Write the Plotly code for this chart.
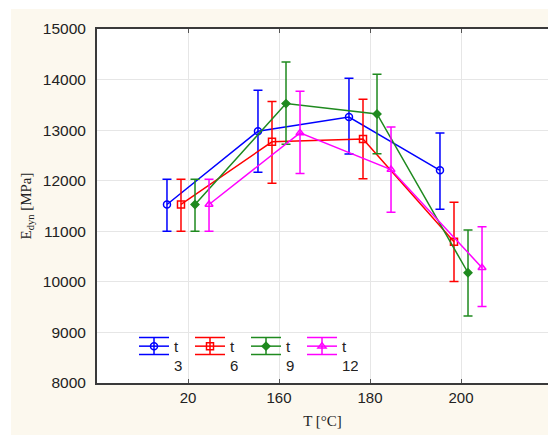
import plotly.graph_objects as go

# ---- data ----
categories = ["20", "160", "180", "200"]          # T [°C]
series_names = ["3", "6", "9", "12"]              # t

t3_mean = [11530, 12980, 13260, 12205]
t3_high = [12030, 13790, 14025, 12945]
t3_low = [11000, 12165, 12530, 11435]

t6_mean = [11530, 12770, 12825, 10795]
t6_high = [12030, 13565, 13610, 11575]
t6_low = [11000, 11950, 12040, 10005]

t9_mean = [11530, 13525, 13320, 10180]
t9_high = [12030, 14345, 14105, 11025]
t9_low = [11000, 12720, 12535, 9325]

t12_mean = [11530, 12945, 12220, 10280]
t12_high = [12030, 13770, 13060, 11090]
t12_low = [11000, 12145, 11375, 9515]

y_ticks = [8000, 9000, 10000, 11000, 12000, 13000, 14000, 15000]
y_labels = ["8000", "9000", "10000", "11000", "12000", "13000", "14000", "15000"]

# ---- styling ----
colors = ["#0000ff", "#ff0000", "#1f8a1f", "#ff00ff"]
symbols = ["circle-open", "square-open", "diamond", "triangle-up-open"]
msizes = [7, 7, 6, 7]
offsets = [-0.231, -0.077, 0.077, 0.231]

means = [t3_mean, t6_mean, t9_mean, t12_mean]
highs = [t3_high, t6_high, t9_high, t12_high]
lows = [t3_low, t6_low, t9_low, t12_low]

base_pos = list(range(1, len(categories) + 1))

W, H = 548, 435
ML, MR, MT, MB = 97, 0, 29, 52
PW, PH = W - ML - MR, H - MT - MB

def px_x(px):
    return (px - ML) / PW

def px_y(py):
    return (H - MB - py) / PH

fig = go.Figure()
for i, name in enumerate(series_names):
    xs = [p + offsets[i] for p in base_pos]
    plus = [h - m for h, m in zip(highs[i], means[i])]
    minus = [m - l for m, l in zip(means[i], lows[i])]
    fig.add_trace(go.Scatter(
        x=xs, y=means[i], name="t<br>" + name,
        mode="lines+markers",
        line=dict(color=colors[i], width=1.5),
        marker=dict(symbol=symbols[i], size=msizes[i], color=colors[i],
                    line=dict(color=colors[i], width=1.5)),
        error_y=dict(type="data", symmetric=False, array=plus, arrayminus=minus,
                     color=colors[i], thickness=1.5, width=4.5),
    ))

# legend placement (pixels) and error-bar caps drawn on the legend icons
leg_left = 134
entry_w = 11
item_step = 40 + entry_w + 5
icon_mid_y = 346
shapes = [
    dict(type="rect", xref="paper", yref="paper", x0=px_x(0), x1=px_x(11),
         y0=px_y(H + 5), y1=px_y(-2), fillcolor="white", line=dict(width=0), layer="above"),
    dict(type="rect", xref="paper", yref="paper", x0=px_x(0), x1=px_x(W),
         y0=px_y(9), y1=px_y(-2), fillcolor="white", line=dict(width=0), layer="above"),
]
for i in range(len(series_names)):
    a = leg_left + i * item_step + 5
    b = a + 30
    for dy in (-8.5, 8.5):
        shapes.append(dict(type="line", xref="paper", yref="paper",
                           x0=px_x(a), x1=px_x(b), y0=px_y(icon_mid_y + dy), y1=px_y(icon_mid_y + dy),
                           line=dict(color=colors[i], width=1.5), layer="above"))
    shapes.append(dict(type="line", xref="paper", yref="paper",
                       x0=px_x((a + b) / 2), x1=px_x((a + b) / 2),
                       y0=px_y(icon_mid_y - 8.5), y1=px_y(icon_mid_y + 8.5),
                       line=dict(color=colors[i], width=1.5), layer="above"))

beige = "#fcf8ee"
fig.update_layout(
    width=W, height=H,
    margin=dict(l=ML, r=MR, t=MT, b=MB),
    paper_bgcolor=beige, plot_bgcolor="white",
    font=dict(family="Liberation Sans, Arial, sans-serif", size=15, color="#222"),
    showlegend=True,
    legend=dict(orientation="h", x=px_x(leg_left), y=0.15, xanchor="left", yanchor="top",
                valign="top", entrywidth=entry_w, entrywidthmode="pixels",
                bgcolor="rgba(0,0,0,0)", font=dict(size=15, color="#222"),
                itemwidth=30, tracegroupgap=0),
    xaxis=dict(
        range=[0, 4.956], tickmode="array", tickvals=base_pos, ticktext=categories,
        showgrid=True, gridcolor="#e6e6e6", gridwidth=1, zeroline=False,
        showline=True, linecolor="#3a3a3a", linewidth=2, mirror="allticks",
        ticks="inside", ticklen=4, tickcolor="#555",
        title=dict(text="T [°C]", standoff=10,
                   font=dict(family="Liberation Serif, Times New Roman, serif", size=15, color="#222")),
    ),
    yaxis=dict(
        range=[8000, 15000], tickmode="array", tickvals=y_ticks, ticktext=y_labels,
        tickfont=dict(size=15.5),
        showgrid=True, gridcolor="#e6e6e6", gridwidth=1, zeroline=False,
        showline=True, linecolor="#3a3a3a", linewidth=2, mirror=False,
        ticks="", ticklabelstandoff=6,
        title=dict(text="E<sub>dyn</sub> [MPa]", standoff=8,
                   font=dict(family="Liberation Serif, Times New Roman, serif", size=15, color="#222")),
    ),
    shapes=shapes,
)

fig.write_html("out.html")
